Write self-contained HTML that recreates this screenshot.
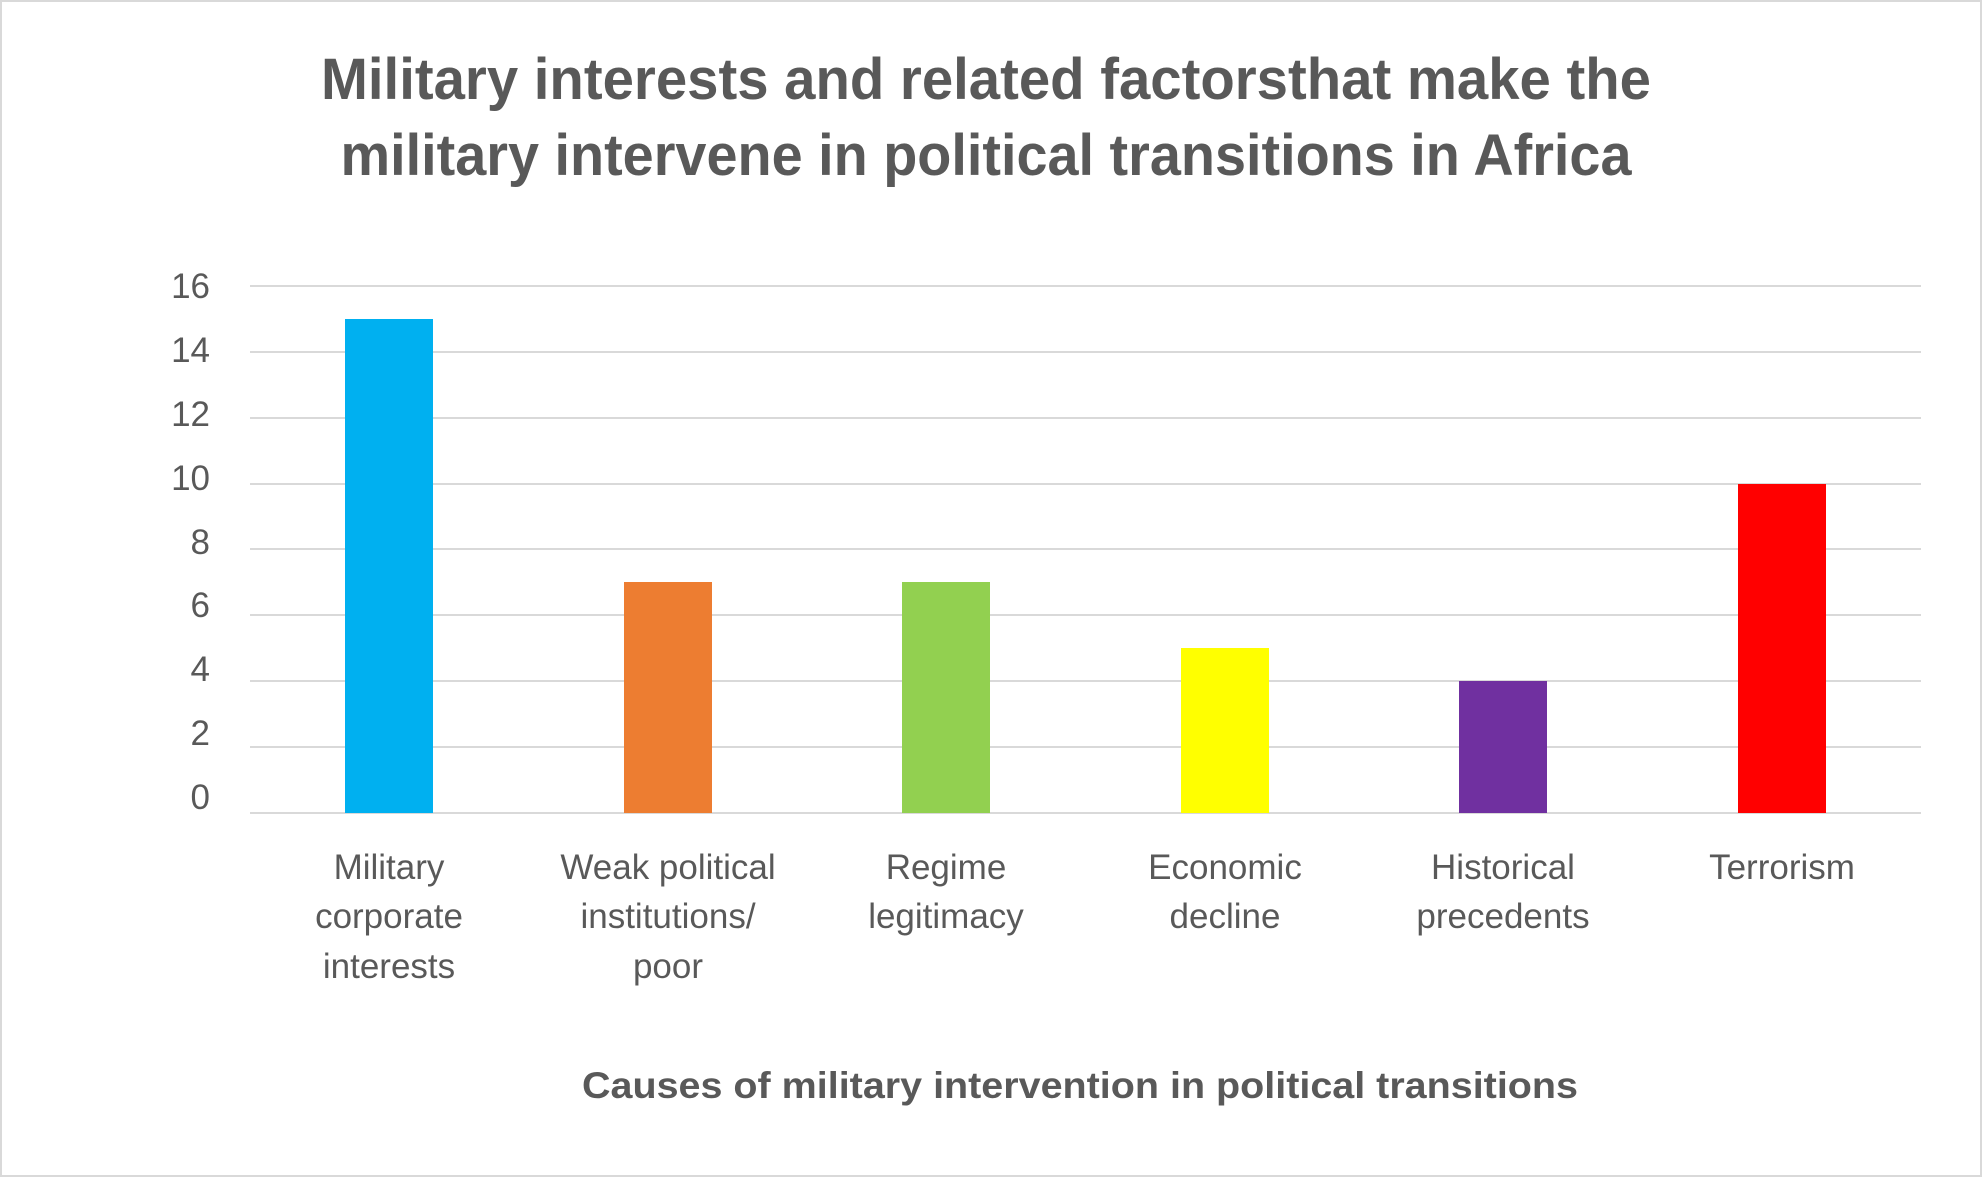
<!DOCTYPE html>
<html><head><meta charset="utf-8"><style>
html,body{margin:0;padding:0;background:#fff;}
svg{display:block;}
</style></head><body>
<svg width="1983" height="1178" viewBox="0 0 1983 1178" xmlns="http://www.w3.org/2000/svg" font-family="'Liberation Sans', sans-serif">
<rect x="1" y="1" width="1980" height="1175" fill="#fff" stroke="#d9d9d9" stroke-width="2"/>
<g fill="#595959" font-weight="bold" font-size="58" text-anchor="middle">
<text x="986" y="99" textLength="1330" lengthAdjust="spacingAndGlyphs">Military interests and related factorsthat make the</text>
<text x="986" y="175" textLength="1291" lengthAdjust="spacingAndGlyphs">military intervene in political transitions in Africa</text>
</g>
<g stroke="#d9d9d9" stroke-width="2">
<line x1="250" x2="1921" y1="286" y2="286"/>
<line x1="250" x2="1921" y1="352" y2="352"/>
<line x1="250" x2="1921" y1="418" y2="418"/>
<line x1="250" x2="1921" y1="484" y2="484"/>
<line x1="250" x2="1921" y1="549" y2="549"/>
<line x1="250" x2="1921" y1="615" y2="615"/>
<line x1="250" x2="1921" y1="681" y2="681"/>
<line x1="250" x2="1921" y1="747" y2="747"/>
<line x1="250" x2="1921" y1="813" y2="813"/>
</g>
<g fill="#595959" font-size="35" text-anchor="end">
<text x="210" y="298">16</text>
<text x="210" y="362">14</text>
<text x="210" y="426">12</text>
<text x="210" y="490">10</text>
<text x="210" y="554">8</text>
<text x="210" y="617">6</text>
<text x="210" y="681">4</text>
<text x="210" y="745">2</text>
<text x="210" y="809">0</text>
</g>
<rect x="345" y="319" width="88" height="494" fill="#00b0f0"/>
<rect x="624" y="582" width="88" height="231" fill="#ed7d31"/>
<rect x="902" y="582" width="88" height="231" fill="#92d050"/>
<rect x="1181" y="648" width="88" height="165" fill="#ffff00"/>
<rect x="1459" y="681" width="88" height="132" fill="#7030a0"/>
<rect x="1738" y="484" width="88" height="329" fill="#ff0000"/>
<g fill="#595959" font-size="35" text-anchor="middle">
<text x="389" y="879">Military</text>
<text x="389" y="928">corporate</text>
<text x="389" y="978">interests</text>
<text x="668" y="879">Weak political</text>
<text x="668" y="928">institutions/</text>
<text x="668" y="978">poor</text>
<text x="946" y="879">Regime</text>
<text x="946" y="928">legitimacy</text>
<text x="1225" y="879">Economic</text>
<text x="1225" y="928">decline</text>
<text x="1503" y="879">Historical</text>
<text x="1503" y="928">precedents</text>
<text x="1782" y="879">Terrorism</text>
</g>
<text x="1080" y="1098" fill="#595959" font-size="37" font-weight="bold" text-anchor="middle" textLength="996" lengthAdjust="spacingAndGlyphs">Causes of military intervention in political transitions</text>
</svg>
</body></html>
